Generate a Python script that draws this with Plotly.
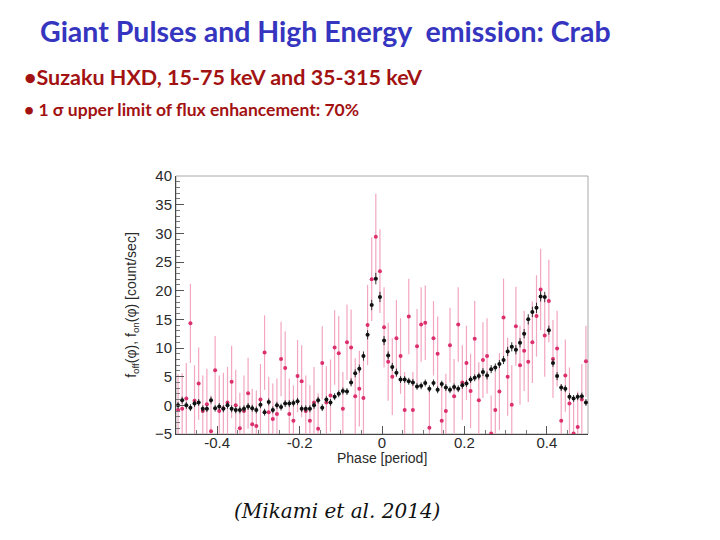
import plotly.graph_objects as go

# ---------------- data ----------------
phase = [round(-0.495 + 0.01 * i, 3) for i in range(100)]

f_off = [0.0, 0.9, 0.0, -0.4, 0.3, 0.5, -0.6, -0.6, 0.9, -0.5,
         -0.2, -0.6, 0.0, -0.6, -0.8, -0.8, -0.6, -0.2, -0.5, -0.8,
         0.1, -1.2, 0.6, -0.8, 0.0, -0.3, 0.3, 0.3, 0.4, 0.7,
         -0.6, -0.6, -0.6, 0.0, 0.9, -0.4, 1.0, 0.5, 1.5, 2.0,
         2.5, 2.4, 4.0, 5.6, 6.4, 8.6, 12.3, 17.5, 22.1, 18.9,
         11.3, 8.7, 6.7, 5.7, 4.5, 4.5, 4.2, 4.0, 3.3, 3.4,
         3.9, 2.9, 3.9, 2.7, 3.7, 3.1, 2.7, 3.2, 2.9, 3.5,
         3.8, 4.5, 4.8, 5.1, 5.8, 5.2, 6.3, 6.6, 7.2, 7.9,
         9.4, 10.2, 9.7, 10.9, 12.5, 15.0, 16.3, 17.0, 19.0, 18.9,
         13.1, 7.4, 5.1, 3.1, 2.9, 1.5, 1.2, 1.5, 1.6, 0.5]

f_off_err = [0.6, 0.6, 0.6, 0.6, 0.6, 0.6, 0.6, 0.6, 0.6, 0.6,
             0.6, 0.6, 0.6, 0.6, 0.6, 0.6, 0.6, 0.6, 0.6, 0.6,
             0.6, 0.6, 0.6, 0.6, 0.6, 0.6, 0.6, 0.6, 0.6, 0.6,
             0.6, 0.6, 0.6, 0.6, 0.6, 0.6, 0.6, 0.6, 0.6, 0.6,
             0.6, 0.6, 0.7, 0.7, 0.7, 0.8, 0.8, 0.9, 1.0, 0.9,
             0.8, 0.7, 0.7, 0.7, 0.6, 0.6, 0.6, 0.6, 0.6, 0.6,
             0.6, 0.6, 0.6, 0.6, 0.6, 0.6, 0.6, 0.6, 0.6, 0.6,
             0.6, 0.6, 0.6, 0.6, 0.7, 0.7, 0.7, 0.7, 0.7, 0.7,
             0.8, 0.8, 0.8, 0.8, 0.8, 0.9, 0.9, 0.9, 0.9, 0.9,
             0.8, 0.7, 0.7, 0.6, 0.6, 0.6, 0.6, 0.6, 0.6, 0.6]

f_on = [-0.8, -0.6, 1.2, 14.3, 0.8, 3.8, -1.0, 0.2, -4.5, 6.1,
        -1.0, -0.5, 0.5, 4.1, 0.0, -4.0, -1.0, 2.1, -3.3, -3.6,
        1.0, 9.2, -1.2, -2.4, -1.5, 8.1, 6.5, -1.5, -2.7, 5.1,
        4.2, -1.0, -2.7, 0.5, -4.1, 7.4, 0.5, 1.7, 10.1, 9.1,
        -0.6, 11.0, 10.1, 1.6, 2.9, 1.3, 14.0, 22.0, 29.4, 23.4,
        13.6, 7.6, 5.0, 11.7, 8.6, -0.8, 15.5, -0.8, 10.3, 14.1,
        14.4, -3.9, 11.7, 9.0, -2.7, -1.0, 10.5, 1.6, 14.1, 4.0,
        7.4, 2.5, 11.6, 0.9, 7.9, 8.6, -4.9, -0.8, 2.4, 15.3,
        5.0, 0.1, 13.8, 7.0, 9.5, 7.6, 11.0, 15.6, 20.2, 12.2,
        18.2, 8.1, 9.9, -2.7, 5.2, 0.3, -4.9, -3.8, 1.0, 7.7]

f_on_err = [6.2, 6.2, 6.2, 6.9, 6.2, 6.3, 6.2, 6.2, 6.2, 6.0,
            6.2, 6.2, 6.2, 6.3, 6.2, 6.2, 6.2, 6.2, 6.2, 6.2,
            6.2, 6.5, 6.2, 6.2, 6.2, 6.5, 6.4, 6.2, 6.2, 6.3,
            6.3, 6.2, 6.2, 6.2, 6.2, 6.4, 6.3, 6.3, 6.5, 6.5,
            6.4, 6.6, 6.6, 6.6, 6.6, 6.7, 7.0, 7.3, 7.5, 7.3,
            7.0, 6.8, 6.7, 6.7, 6.6, 6.6, 6.6, 6.6, 6.5, 6.5,
            6.5, 6.5, 6.5, 6.5, 6.5, 6.5, 6.5, 6.5, 6.5, 6.5,
            6.5, 6.5, 6.6, 6.6, 6.6, 6.6, 6.6, 6.7, 6.7, 6.8,
            6.8, 6.9, 6.9, 6.9, 7.0, 7.0, 7.1, 7.1, 7.1, 7.2,
            7.2, 6.8, 6.6, 6.4, 6.3, 6.3, 6.2, 6.2, 6.2, 6.2]

x_ticks = [-0.4, -0.2, 0.0, 0.2, 0.4]
x_tick_labels = ["-0.4", "-0.2", "0", "0.2", "0.4"]
y_ticks = [-5, 0, 5, 10, 15, 20, 25, 30, 35, 40]

# ---------------- layout geometry (page pixels) ----------------
OFF = 8                       # default page body margin
W, H = 720 - 2 * OFF, 540 - 2 * OFF
L, R, T, B = 176, 588, 176, 434  # plot frame in page pixels


def px(xp):
    return (xp - L) / (R - L)


def py(yp):
    return (B - yp) / (B - T)


fig = go.Figure()

fig.add_trace(go.Scatter(
    x=phase, y=f_on, mode="markers", name="on",
    marker=dict(color="#DC2F6E", size=4),
    error_y=dict(type="data", array=f_on_err, color="#F3A6BF",
                 thickness=1.2, width=0),
    showlegend=False,
))

fig.add_trace(go.Scatter(
    x=phase, y=f_off, mode="markers", name="off",
    marker=dict(color="#111111", size=4),
    error_y=dict(type="data", array=f_off_err, color="#333333",
                 thickness=1, width=0),
    error_x=dict(type="constant", value=0.004, color="#333333",
                 thickness=1, width=0),
    showlegend=False,
))

axis_font = dict(family="Liberation Sans, Arial, sans-serif", size=15, color="#2a2a2a")

fig.update_xaxes(
    range=[-0.5, 0.5], tickvals=x_ticks, ticktext=x_tick_labels,
    ticks="inside", ticklen=8, tickcolor="#555555",
    minor=dict(ticks="inside", ticklen=4, dtick=0.05, tickcolor="#777777"),
    showgrid=False, zeroline=False,
    showline=True, linecolor="#444444", linewidth=1,
    tickfont=axis_font, ticklabelstandoff=-5,
)
fig.update_yaxes(
    range=[-5, 40], tickvals=y_ticks,
    ticks="inside", ticklen=8, tickcolor="#555555",
    minor=dict(ticks="inside", ticklen=4, dtick=1, tickcolor="#777777"),
    showgrid=False, zeroline=False,
    showline=True, linecolor="#444444", linewidth=1,
    tickfont=axis_font,
    title=dict(text="f<sub>off</sub>(φ), f<sub>on</sub>(φ) [count/sec]",
               font=dict(family="Liberation Sans, Arial, sans-serif", size=14, color="#2a2a2a"),
               standoff=14),
)

# light frame around the plot (top/right borders)
fig.add_shape(type="rect", xref="paper", yref="paper", x0=0, y0=0, x1=1, y1=1,
              line=dict(color="#AAAAAA", width=1), layer="below")

anns = [
    dict(text="<b>Giant Pulses and High Energy  emission: Crab</b>", x=px(38), y=py(31),
         font=dict(family="Lato, sans-serif", size=28.5, color="#3535C0")),
    dict(text="<b>•Suzaku HXD, 15-75 keV and 35-315 keV</b>", x=px(22), y=py(77),
         font=dict(family="Lato, sans-serif", size=21.5, color="#A31212")),
    dict(text="<b>• 1 σ upper limit of flux enhancement: 70%</b>", x=px(22), y=py(109),
         font=dict(family="Lato, sans-serif", size=17.5, color="#A31212")),
    dict(text="Phase [period]", x=px(382), y=py(458), xanchor="center",
         font=dict(family="Liberation Sans, Arial, sans-serif", size=14, color="#2a2a2a")),
    dict(text="<i>(Mikami et al. 2014)</i>", x=px(232), y=py(511),
         font=dict(family="DejaVu Serif, serif", size=20, color="#111111")),
]
for a in anns:
    a.setdefault("xanchor", "left")
    fig.add_annotation(xref="paper", yref="paper", yanchor="middle",
                       showarrow=False, **a)

fig.update_layout(
    width=W, height=H,
    margin=dict(l=L - OFF, r=(OFF + W) - R, t=T - OFF, b=(OFF + H) - B),
    paper_bgcolor="white", plot_bgcolor="white",
)

fig.write_html("out.html")
